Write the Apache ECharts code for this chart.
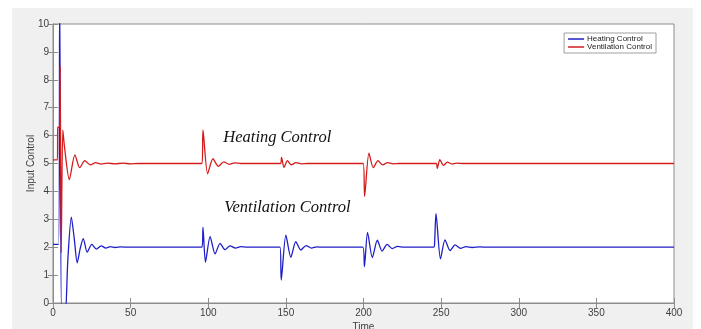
<!DOCTYPE html>
<html>
<head>
<meta charset="utf-8">
<script src="https://cdn.jsdelivr.net/npm/echarts@6/dist/echarts.min.js"></script>
<style>
html,body{margin:0;padding:0;background:#fff;}
#bg{position:absolute;left:12px;top:8px;width:681px;height:321px;background:#f0f0f0;}
#chart{position:absolute;left:0;top:0;width:701px;height:329px;}
</style>
</head>
<body>
<div id="bg"></div>
<div id="chart"></div>
<script>
// Heating Control (blue) time points and values
const heatTime = [0,3.6,4.3,5.6,7.6,9.6,11.8,13.7,15.6,17.5,19.5,22,25,28,31,34,37,40,44,48,
  96,96.6,98.2,101.2,104.4,107.6,110.8,114,117.5,121,125,
  146.2,147.0,150.0,153.2,156.4,159.6,163,166.5,170,174,
  199.6,200.6,202.6,205.7,208.9,212,215.2,218.5,222,226,
  245.3,245.8,246.7,249.6,252.5,255.8,259,262.5,266,270,275,280,400];
const heatValues = [2.1,2.1,11,-0.6,-0.6,1.6,3.08,2.3,1.44,1.95,2.31,1.82,2.1,1.93,2.05,1.97,2.02,1.99,2.01,2.0,
  2.0,2.72,1.46,2.38,1.76,2.14,1.91,2.05,1.97,2.02,2.0,
  2.0,0.82,2.43,1.64,2.2,1.9,2.06,1.97,2.01,2.0,
  2.0,1.3,2.53,1.63,2.25,1.86,2.1,1.95,2.03,2.0,
  2.0,2.15,3.2,1.58,2.26,1.88,2.08,1.96,2.02,1.99,2.01,2.0,2.0];

// Ventilation Control (red)
const ventTime = [0,2.8,3.1,4.2,4.6,5.3,6.3,7.4,10.5,14.1,17.2,20.5,24,27.5,31,35,40,45,50,55,
  96,96.6,99.6,103,106.5,110,113.5,117,121,
  146.5,147.2,148.8,151,153.5,156.5,160,164,
  199.8,200.7,203.5,206.3,209.3,212.3,215.5,219,223,
  246.8,247.5,249.2,251.5,254,257,260,264,300,400];
const ventValues = [5.13,5.13,6.3,6.3,8.5,1.8,6.2,5.6,4.42,5.31,4.85,5.1,4.95,5.03,4.98,5.01,4.99,5.01,4.99,5.0,
  5.0,6.2,4.63,5.17,4.9,5.06,4.97,5.02,5.0,
  5.0,5.22,4.86,5.1,4.95,5.03,4.99,5.0,
  5.0,3.82,5.37,4.85,5.1,4.95,5.03,4.99,5.0,
  5.0,4.83,5.14,4.93,5.05,4.98,5.01,5.0,5.0,5.0];

const seriesNames = ['Heating Control','Ventilation Control'];
const xTicks = [0,400,50];   // min, max, interval
const yTicks = [0,10,1];
const annotations = [
  {t:109.7, v:5.9, text:'Heating Control'},
  {t:110.3, v:3.39, text:'Ventilation Control'}
];

const zip = (a,b) => a.map((x,i)=>[x,b[i]]);
const chart = echarts.init(document.getElementById('chart'), null, {renderer:'canvas'});
const labelStyle = {color:'#404040', fontSize:10, fontFamily:'Liberation Sans, Arial, sans-serif'};
const axisLineC = '#8c8c8c';
const option = {
  backgroundColor:'transparent',
  animation:false,
  grid:{left:53, top:24, width:621, height:279, show:true, backgroundColor:'#fff', borderColor:axisLineC, borderWidth:1,
    containLabel:false, outerBoundsMode:'none'},
  legend:{
    orient:'vertical', right:45, top:33, data:seriesNames,
    backgroundColor:'#fff', borderColor:'#a0a0a0', borderWidth:1, borderRadius:0,
    padding:[2,4,2,4], itemGap:0, itemWidth:16, itemHeight:1.5, icon:'rect',
    textStyle:{fontSize:8, lineHeight:7.5, height:7.5, color:'#222', fontFamily:'Liberation Sans, Arial, sans-serif', padding:[0,0,0,-2]}
  },
  xAxis:[{
    type:'value', min:xTicks[0], max:xTicks[1], interval:xTicks[2],
    name:'Time', nameLocation:'middle', nameGap:19, nameMoveOverlap:false,
    nameTextStyle:labelStyle,
    axisLine:{show:true, lineStyle:{color:axisLineC}},
    axisTick:{show:true, inside:true, length:5, lineStyle:{color:axisLineC}},
    axisLabel:Object.assign({margin:5}, labelStyle),
    splitLine:{show:false}
  },{
    type:'value', position:'top', min:xTicks[0], max:xTicks[1], interval:xTicks[2],
    axisLine:{show:true, lineStyle:{color:axisLineC}},
    axisTick:{show:true, inside:true, length:5, lineStyle:{color:axisLineC}},
    axisLabel:{show:false}, splitLine:{show:false}
  }],
  yAxis:[{
    type:'value', min:yTicks[0], max:yTicks[1], interval:yTicks[2],
    name:'Input Control', nameLocation:'middle', nameGap:17, nameMoveOverlap:false,
    nameTextStyle:labelStyle,
    axisLine:{show:true, lineStyle:{color:axisLineC}},
    axisTick:{show:true, inside:true, length:5, lineStyle:{color:axisLineC}},
    axisLabel:Object.assign({margin:4}, labelStyle),
    splitLine:{show:false}
  },{
    type:'value', position:'right', min:yTicks[0], max:yTicks[1], interval:yTicks[2],
    axisLine:{show:true, lineStyle:{color:axisLineC}},
    axisTick:{show:true, inside:true, length:5, lineStyle:{color:axisLineC}},
    axisLabel:{show:false}, splitLine:{show:false}
  }],
  series:[{
    name:seriesNames[0], type:'line', data:zip(heatTime,heatValues),
    showSymbol:false, smooth:0.25, clip:true,
    color:'#1f1fc8', lineStyle:{width:1.3, color:'#1f1fc8'}
  },{
    name:seriesNames[1], type:'line', data:zip(ventTime,ventValues),
    showSymbol:false, smooth:0.25, clip:true,
    color:'#d41c1c', lineStyle:{width:1.3, color:'#d41c1c'}
  }]
};
chart.setOption(option);
const graphics = annotations.map(a => {
  const p = chart.convertToPixel({xAxisIndex:0, yAxisIndex:0}, [a.t, a.v]);
  return {type:'text', left:p[0], top:p[1]-9, z:100,
    style:{text:a.text, font:'italic 16.5px "Liberation Serif", "Times New Roman", serif', fill:'#111'}};
});
chart.setOption({graphic:graphics});
</script>
</body>
</html>
